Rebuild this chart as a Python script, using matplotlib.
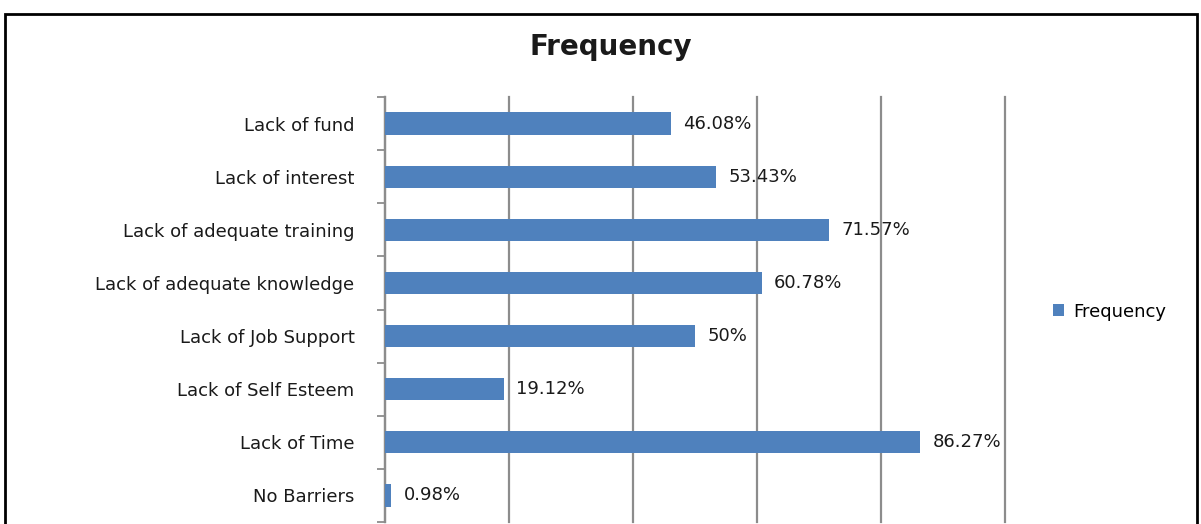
import matplotlib.pyplot as plt
from matplotlib.patches import Rectangle

categories = ['Lack of fund', 'Lack of interest', 'Lack of adequate training',
              'Lack of adequate knowledge', 'Lack of Job Support',
              'Lack of Self Esteem', 'Lack of Time', 'No Barriers']
values = [46.08, 53.43, 71.57, 60.78, 50, 19.12, 86.27, 0.98]
value_labels = ['46.08%', '53.43%', '71.57%', '60.78%', '50%', '19.12%', '86.27%', '0.98%']

bar_color = '#4F81BD'
grid_color = '#8C8C8C'

fig = plt.figure(figsize=(12.01, 5.24), dpi=100)
ax = fig.add_axes([0.3206, 0.0038, 0.5162, 0.8111])

pos = list(range(len(categories)))
ax.barh(pos, values, height=0.42, color=bar_color, zorder=3, label='Frequency')
for p, v, t in zip(pos, values, value_labels):
    ax.text(v + 2.0, p, t, va='center', ha='left', fontsize=13, color='#1a1a1a', zorder=4)

ax.set_xlim(0, 100)
ax.set_ylim(len(categories) - 0.5, -0.5)
ax.set_xticks([0, 20, 40, 60, 80, 100])
ax.xaxis.grid(True, color=grid_color, linewidth=1.6, zorder=0)
for gl in ax.get_xgridlines():
    gl.set_clip_on(False)
ax.tick_params(axis='x', length=0, labelbottom=False)

ax.set_yticks([p - 0.5 for p in pos] + [len(categories) - 0.5])
ax.set_yticklabels([])
ax.set_yticks(pos, minor=True)
ax.set_yticklabels(categories, minor=True, fontsize=13, color='#1a1a1a')
ax.tick_params(axis='y', which='major', length=6, width=1.3, color=grid_color)
ax.tick_params(axis='y', which='minor', length=0, pad=22)

for s in ['top', 'right', 'bottom']:
    ax.spines[s].set_visible(False)
ax.spines['left'].set_color(grid_color)
ax.spines['left'].set_linewidth(1.6)

fig.text(0.5089, 0.91, 'Frequency', ha='center', va='center', fontsize=20, fontweight='bold', color='#1a1a1a')

fig.legend(loc='center left', bbox_to_anchor=(0.863, 0.405), frameon=False,
           fontsize=13, handlelength=0.65, handleheight=0.65, handletextpad=0.5)

fig.patches.append(Rectangle((0.0045, -0.1), 0.9925, 1.073, transform=fig.transFigure,
                             fill=False, edgecolor='black', linewidth=2, clip_on=False))

fig.savefig('out.png', dpi=100)
